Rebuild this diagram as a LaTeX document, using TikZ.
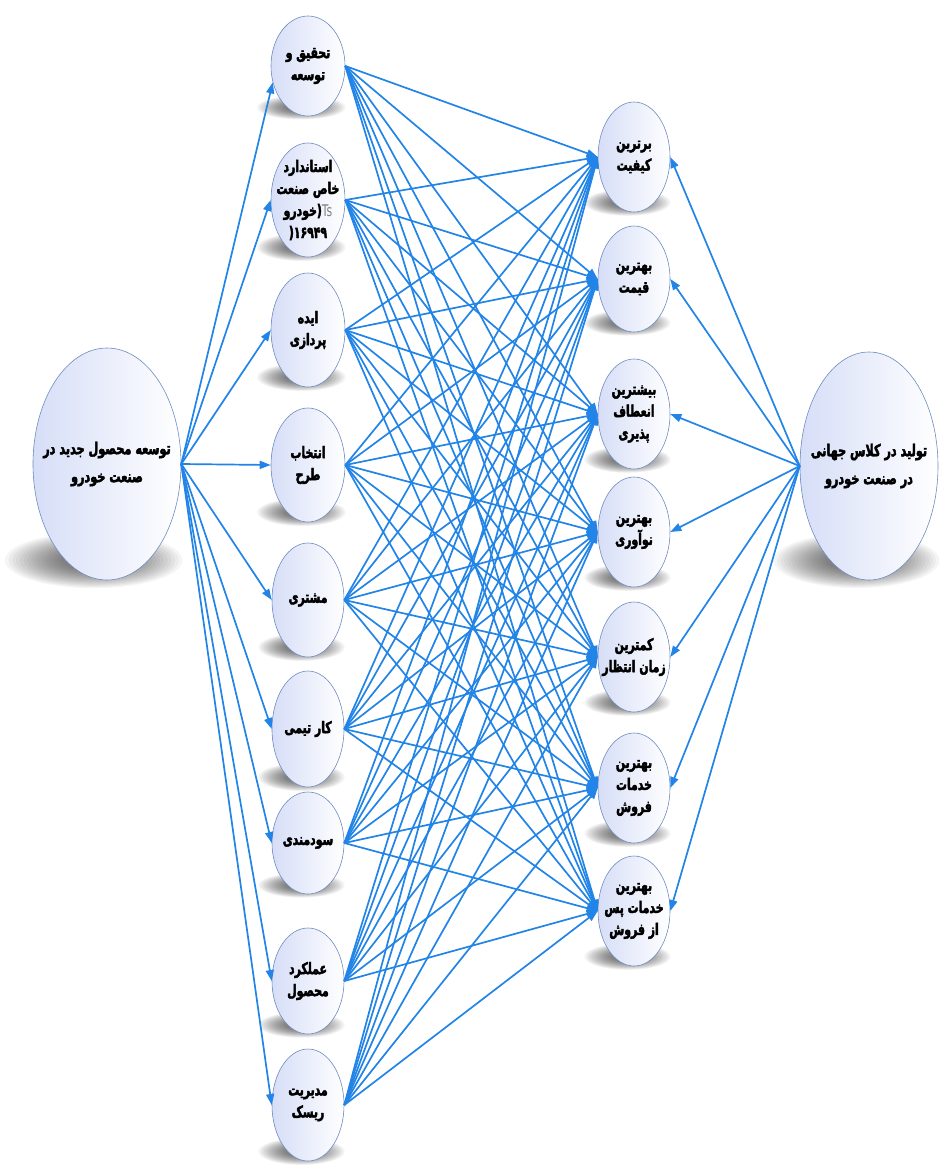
\documentclass[tikz,border=0pt]{standalone}
\usepackage{fontspec}
\newfontfamily\arabicfont[Script=Arabic, FakeStretch=0.68, BoldFeatures={FakeBold=2.6}]{DejaVu Sans}
\newfontfamily\latinfont[FakeStretch=0.68, BoldFeatures={FakeBold=2.6}]{DejaVu Sans}
\TeXXeTstate=1
\usetikzlibrary{shapes.geometric,arrows.meta}
\newcommand{\fa}[1]{\beginR #1\endR}
\definecolor{lineblue}{RGB}{34,132,230}
\definecolor{edgeblue}{RGB}{110,140,192}
\definecolor{fillblue}{RGB}{214,222,247}
\newcommand{\bubble}[7]{%
  \foreach \k in {0,...,15}{
    \fill[black, opacity=0.04] (#2-0.18*#4, #3+0.83*#5) ellipse [x radius={(1.2-0.05*\k)*#4}, y radius={(1.2-0.05*\k)*0.2*#5}];
  }
  \node[bubble, minimum width={2*#4pt}, minimum height={2*#5pt}] (#1) at (#2,#3) {};
  \node[#6] (#1t) at (#1.center) {#7};
}
\begin{document}
\begin{tikzpicture}[x=1pt,y=-1pt,
  bubble/.style={ellipse, draw=edgeblue, line width=0.6pt, left color=fillblue, right color=white, inner sep=0pt},
  smalltxt/.style={align=center, inner sep=0pt, font=\arabicfont\bfseries\fontsize{16}{22}\selectfont},
  bigtxt/.style={align=center, inner sep=0pt, font=\arabicfont\bfseries\fontsize{16.5}{28}\selectfont},
  arr/.style={draw=lineblue, line width=1.7pt, -{Triangle[length=11pt,width=8pt]}}
]
\fill[white] (0,0) rectangle (939,1169);
\useasboundingbox (0,0) rectangle (939,1169);

% left big
\bubble{L}{107}{464}{74}{116}{bigtxt}{\fa{توسعه محصول جدید در}\\\fa{صنعت خودرو}}
% right big
\bubble{RB}{869}{466}{69}{114}{bigtxt}{\fa{تولید در کلاس جهانی}\\\fa{در صنعت خودرو}}

% middle column
\bubble{M1}{308}{66}{37}{50}{smalltxt}{\fa{تحقیق و}\\\fa{توسعه}}
\bubble{M2}{308}{200}{37}{57}{smalltxt}{\fa{استاندارد}\\\fa{خاص صنعت}\\\mbox{\fa{خودرو}}\mbox{\latinfont )}\mbox{\latinfont\mdseries\color{gray}Ts}\\\mbox{\latinfont )۱۶۹۴۹}}
\bubble{M3}{308}{330}{37}{57}{smalltxt}{\fa{ایده}\\\fa{پردازی}}
\bubble{M4}{308}{465}{37}{57}{smalltxt}{\fa{انتخاب}\\\fa{طرح}}
\bubble{M5}{308}{600}{36}{57}{smalltxt}{\fa{مشتری}}
\bubble{M6}{308}{729}{36}{58}{smalltxt}{\fa{کار تیمی}}
\bubble{M7}{308}{843}{36}{51}{smalltxt}{\fa{سودمندی}}
\bubble{M8}{308}{981}{36}{53}{smalltxt}{\fa{عملکرد}\\\fa{محصول}}
\bubble{M9}{308}{1105}{36}{56}{smalltxt}{\fa{مدیریت}\\\fa{ریسک}}

% right column
\bubble{R1}{634}{157}{36}{55}{smalltxt}{\fa{برترین}\\\fa{کیفیت}}
\bubble{R2}{634}{279}{36}{53}{smalltxt}{\fa{بهترین}\\\fa{قیمت}}
\bubble{R3}{634}{414}{36}{55}{smalltxt}{\fa{بیشترین}\\\fa{انعطاف}\\\fa{پذیری}}
\bubble{R4}{634}{532}{36}{55}{smalltxt}{\fa{بهترین}\\\fa{نوآوری}}
\bubble{R5}{634}{657}{36}{55}{smalltxt}{\fa{کمترین}\\\fa{زمان انتظار}}
\bubble{R6}{634}{788}{36}{55}{smalltxt}{\fa{بهترین}\\\fa{خدمات}\\\fa{فروش}}
\bubble{R7}{634}{911}{36}{55}{smalltxt}{\fa{بهترین}\\\fa{خدمات پس}\\\fa{از فروش}}

% connectors
\foreach \m/\a in {1/205,2/180,3/180,4/180,5/180,6/180,7/180,8/180,9/180}{
  \draw[arr] (L.east) -- (M\m.\a);
  \foreach \r in {1,...,7}{
    \draw[arr] (M\m.east) -- (R\r.west);
  }
}
\foreach \r in {1,...,7}{
  \draw[arr] (RB.west) -- (R\r.east);
}
\end{tikzpicture}
\end{document}
